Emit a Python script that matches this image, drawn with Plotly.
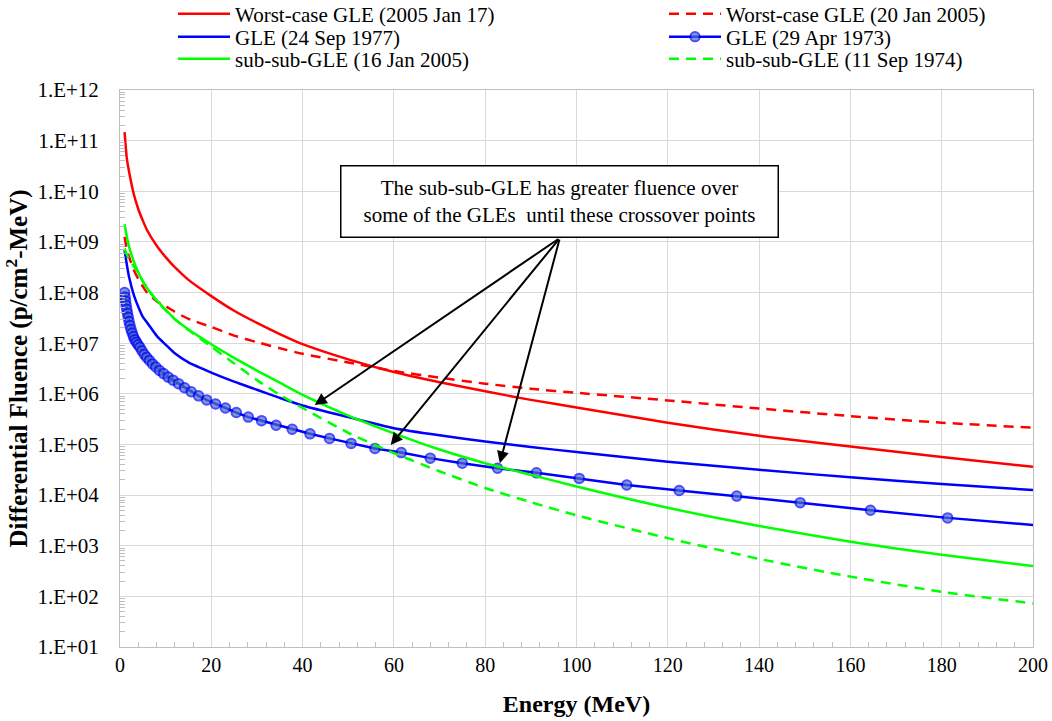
import plotly.graph_objects as go

# ---------------- data ----------------
energy_line = [1, 1.5, 2, 3, 4, 5, 6, 8, 10, 12, 15, 20, 25, 30, 35, 40, 50, 60,
               70, 80, 90, 100, 120, 140, 160, 180, 200]

# log10 of differential fluence (p/cm2-MeV)
worst_2005jan17_log10 = [11.17, 10.65, 10.38, 9.95, 9.65, 9.42, 9.22, 8.93, 8.70, 8.50, 8.25,
                         7.93, 7.64, 7.40, 7.18, 6.98, 6.68, 6.43, 6.23, 6.05, 5.88, 5.73,
                         5.43, 5.17, 4.96, 4.75, 4.56]
worst_20jan2005_log10 = [9.10, 8.85, 8.70, 8.45, 8.27, 8.12, 7.99, 7.83, 7.73, 7.62, 7.48,
                         7.32, 7.15, 7.02, 6.90, 6.79, 6.62, 6.45, 6.32, 6.20, 6.10, 6.02,
                         5.87, 5.71, 5.56, 5.43, 5.33]
gle_24sep1977_log10 = [8.84, 8.55, 8.30, 7.96, 7.72, 7.52, 7.40, 7.15, 6.97, 6.80, 6.62,
                       6.42, 6.24, 6.08, 5.92, 5.77, 5.54, 5.32, 5.18, 5.06, 4.95, 4.85,
                       4.66, 4.50, 4.35, 4.22, 4.10]
subsub_16jan2005_log10 = [9.35, 9.10, 8.90, 8.62, 8.40, 8.22, 8.08, 7.85, 7.66, 7.48, 7.27,
                          6.98, 6.71, 6.46, 6.22, 5.98, 5.57, 5.22, 4.90, 4.63, 4.40, 4.17,
                          3.75, 3.39, 3.08, 2.82, 2.60]
subsub_11sep1974_log10 = [8.87, 8.75, 8.65, 8.52, 8.40, 8.22, 8.08, 7.84, 7.65, 7.47, 7.26,
                          6.93, 6.60, 6.27, 5.98, 5.72, 5.23, 4.83, 4.47, 4.14, 3.86, 3.60,
                          3.15, 2.74, 2.39, 2.09, 1.86]

energy_1973 = [1.000, 1.103, 1.217, 1.342, 1.481, 1.633, 1.802, 1.987, 2.192, 2.418,
               2.668, 2.943, 3.246, 3.581, 3.950, 4.357, 4.806, 5.302, 5.849, 6.451,
               7.116, 7.850, 8.659, 9.552, 10.54, 11.62, 12.82, 14.14, 15.60, 17.21,
               18.98, 20.94, 23.10, 25.48, 28.10, 31.00, 34.20, 37.72, 41.61, 45.90,
               50.63, 55.85, 61.61, 67.96, 74.97, 82.70, 91.23, 100.6, 111.0, 122.5,
               135.1, 149.0, 164.4, 181.3, 200.0]
gle_29apr1973_log10 = [8.00, 7.91, 7.83, 7.75, 7.67, 7.59, 7.51, 7.43, 7.35, 7.27,
                       7.20, 7.13, 7.07, 7.02, 6.97, 6.92, 6.85, 6.78, 6.72, 6.66,
                       6.59, 6.53, 6.46, 6.40, 6.33, 6.27, 6.20, 6.12, 6.04, 5.96,
                       5.88, 5.80, 5.72, 5.63, 5.54, 5.47, 5.38, 5.30, 5.21, 5.12,
                       5.02, 4.92, 4.84, 4.73, 4.63, 4.53, 4.44, 4.33, 4.20, 4.09,
                       3.98, 3.85, 3.70, 3.55, 3.41]

y_tick_exponents = [1, 2, 3, 4, 5, 6, 7, 8, 9, 10, 11, 12]
y_tick_labels = ["1.E+01", "1.E+02", "1.E+03", "1.E+04", "1.E+05", "1.E+06",
                 "1.E+07", "1.E+08", "1.E+09", "1.E+10", "1.E+11", "1.E+12"]

# ---------------- figure ----------------
FONT = "Liberation Serif, Times New Roman, serif"
RED, BLUE, GREEN = "#FF0000", "#0000FF", "#00FF00"
LW = 2.5
DASH = "10px,7px"

W, H = 1052, 721
ML, MR, MT, MB = 120, 19, 90, 74
PW, PH = W - ML - MR, H - MT - MB


def vals(logs):
    return [10 ** v for v in logs]


fig = go.Figure()
fig.add_trace(go.Scatter(x=energy_line, y=vals(worst_2005jan17_log10), mode="lines",
                         name="Worst-case GLE (2005 Jan 17)", legend="legend",
                         line=dict(color=RED, width=LW, shape="spline", smoothing=0.6)))
fig.add_trace(go.Scatter(x=energy_line, y=vals(worst_20jan2005_log10), mode="lines",
                         name="Worst-case GLE (20 Jan 2005)", legend="legend2",
                         line=dict(color=RED, width=LW, dash=DASH, shape="spline", smoothing=0.6)))
fig.add_trace(go.Scatter(x=energy_line, y=vals(gle_24sep1977_log10), mode="lines",
                         name="GLE (24 Sep 1977)", legend="legend3",
                         line=dict(color=BLUE, width=LW, shape="spline", smoothing=0.6)))
msizes = [9.5] * (len(energy_1973) - 1) + [0]
fig.add_trace(go.Scatter(x=energy_1973, y=vals(gle_29apr1973_log10), mode="lines+markers",
                         name="GLE (29 Apr 1973)", legend="legend4",
                         line=dict(color=BLUE, width=LW),
                         marker=dict(symbol="circle", size=msizes, color="#4A6FC4",
                                     line=dict(color=BLUE, width=2))))
fig.add_trace(go.Scatter(x=energy_line, y=vals(subsub_16jan2005_log10), mode="lines",
                         name="sub-sub-GLE (16 Jan 2005)", legend="legend5",
                         line=dict(color=GREEN, width=LW, shape="spline", smoothing=0.6)))
fig.add_trace(go.Scatter(x=energy_line, y=vals(subsub_11sep1974_log10), mode="lines",
                         name="sub-sub-GLE (11 Sep 1974)", legend="legend6",
                         line=dict(color=GREEN, width=LW, dash=DASH, shape="spline", smoothing=0.6)))

minor_y = [m * 10 ** e for e in range(1, 12) for m in range(2, 10)]


def legend_at(x_px, y_px):
    return dict(orientation="v", xref="paper", yref="paper",
                x=(x_px - ML) / PW, xanchor="left", y=(H - MB - y_px) / PH, yanchor="middle",
                font=dict(family=FONT, size=21, color="black"),
                bgcolor="rgba(0,0,0,0)", itemwidth=52, borderwidth=0)


COL1, COL2 = 173, 664
ROWS = [14, 37, 59]

fig.update_layout(
    width=W, height=H,
    margin=dict(l=ML, r=MR, t=MT, b=MB, autoexpand=False),
    paper_bgcolor="white", plot_bgcolor="white",
    font=dict(family=FONT, size=20, color="black"),
    showlegend=True,
    legend=legend_at(COL1, ROWS[0]),
    legend2=legend_at(COL2, ROWS[0]),
    legend3=legend_at(COL1, ROWS[1]),
    legend4=legend_at(COL2, ROWS[1]),
    legend5=legend_at(COL1, ROWS[2]),
    legend6=legend_at(COL2, ROWS[2]),
    xaxis=dict(range=[0, 200], tickmode="linear", tick0=0, dtick=20,
               showgrid=True, gridcolor="#D9D9D9", gridwidth=1,
               showline=True, linecolor="#BFBFBF", linewidth=1, mirror=True,
               ticks="", zeroline=False, automargin=False,
               tickfont=dict(family=FONT, size=20, color="black"),
               minor=dict(ticks="inside", dtick=4, ticklen=5, tickcolor="#BFBFBF", showgrid=False),
               title=dict(text="<b>Energy (MeV)</b>", standoff=20,
                          font=dict(family=FONT, size=24, color="black"))),
    yaxis=dict(type="log", range=[1, 12],
               tickmode="array", tickvals=[10 ** e for e in y_tick_exponents], ticktext=y_tick_labels,
               showgrid=True, gridcolor="#D9D9D9", gridwidth=1,
               showline=True, linecolor="#BFBFBF", linewidth=1, mirror=True,
               ticks="", zeroline=False, automargin=False, ticklabelstandoff=16,
               tickfont=dict(family=FONT, size=21, color="black"),
               minor=dict(ticks="inside", tickmode="array", tickvals=minor_y, ticklen=5,
                          tickcolor="#BFBFBF", showgrid=False),
               title=dict(text="<b>Differential Fluence (p/cm<sup>2</sup>-MeV)</b>", standoff=2,
                          font=dict(family=FONT, size=25, color="black"))),
)

# text box
fig.add_annotation(xref="paper", yref="paper", x=(559 - ML) / PW, y=(H - MB - 201.5) / PH,
                   xanchor="center", yanchor="middle",
                   text="The sub-sub-GLE has greater fluence over<br>some of the GLEs  until these crossover points",
                   showarrow=False, align="center",
                   font=dict(family=FONT, size=21, color="black"),
                   bordercolor="black", borderwidth=1.5, borderpad=4, bgcolor="white",
                   width=428, height=62)

# arrows (tail at bottom-centre of text box, tips at crossover points)
tail_x, tail_y = 96.35, 9.077
for tx, ty in [(42.66, 5.78), (59.3, 4.99), (83.2, 4.63)]:
    fig.add_annotation(x=tx, y=ty, xref="x", yref="y", ax=tail_x, ay=tail_y,
                       axref="x", ayref="y", text="", showarrow=True,
                       arrowhead=2, arrowsize=1.2, arrowwidth=2, arrowcolor="black", standoff=0)

fig.write_html("out.html", config={"displayModeBar": False},
               post_script="document.body.style.margin='0px';")
